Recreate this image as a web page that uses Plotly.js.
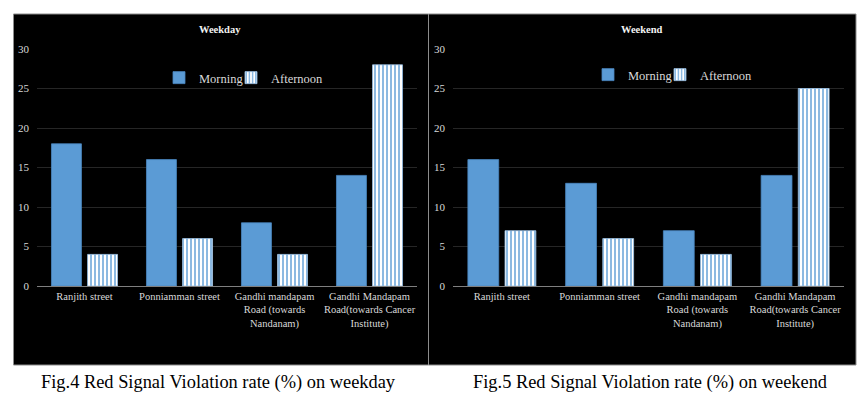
<!DOCTYPE html>
<html>
<head>
<meta charset="utf-8">
<script src="https://cdn.plot.ly/plotly-3.0.1.min.js"></script>
<style>html,body{margin:0;padding:0;background:#fff;}#chart{width:866px;height:394px;}</style>
</head>
<body>
<div id="chart"></div>
<script>
const categories = [
  "Ranjith street",
  "Ponniamman street",
  "Gandhi mandapam<br>Road (towards<br>Nandanam)",
  "Gandhi Mandapam<br>Road(towards Cancer<br>Institute)"
];
const weekdayMorning = [18, 16, 8, 14];
const weekdayAfternoon = [4, 6, 4, 28];
const weekendMorning = [16, 13, 7, 14];
const weekendAfternoon = [7, 6, 4, 25];
const panelTitles = ["Weekday", "Weekend"];
const captions = [
  "Fig.4 Red Signal Violation rate (%) on weekday",
  "Fig.5 Red Signal Violation rate (%) on weekend"
];

const W = 866, H = 394;
const px = v => v / W;
const py = v => 1 - v / H;

const blue = '#5b9bd5';
const serif = 'Liberation Serif, Times New Roman, serif';
const morningStyle = {color: blue, line: {color: '#4a86c0', width: 0.8}};
const afternoonStyle = {
  color: '#ffffff',
  line: {color: '#9dc3e6', width: 0.8},
  pattern: {shape: '|', fgcolor: blue, bgcolor: '#ffffff', size: 4, solidity: 0.35}
};

const traces = [
  {type: 'bar', name: 'Morning', x: categories, y: weekdayMorning, xaxis: 'x', yaxis: 'y', marker: morningStyle, legend: 'legend', hoverinfo: 'skip'},
  {type: 'bar', name: 'Afternoon', x: categories, y: weekdayAfternoon, xaxis: 'x', yaxis: 'y', marker: afternoonStyle, legend: 'legend', legendwidth: 70, hoverinfo: 'skip'},
  {type: 'bar', name: 'Morning', x: categories, y: weekendMorning, xaxis: 'x2', yaxis: 'y2', marker: morningStyle, legend: 'legend2', hoverinfo: 'skip'},
  {type: 'bar', name: 'Afternoon', x: categories, y: weekendAfternoon, xaxis: 'x2', yaxis: 'y2', marker: afternoonStyle, legend: 'legend2', legendwidth: 70, hoverinfo: 'skip'}
];

const tickFont = {family: serif, size: 10.5, color: '#d9d9d9'};
const yBase = {
  range: [0, 30], dtick: 5, showgrid: true, gridcolor: '#262626', gridwidth: 1,
  zeroline: false, showline: false, ticks: '', tickfont: {family: serif, size: 11, color: '#d9d9d9'},
  ticklabelstandoff: 7, domain: [py(286), py(49)], fixedrange: true
};
const xBase = {
  showgrid: false, showline: true, linecolor: '#7f7f7f', linewidth: 1, ticks: '',
  tickfont: tickFont, tickangle: 0, fixedrange: true
};
const legendFont = {family: serif, size: 12.5, color: '#d9d9d9'};

function ann(text, x, y, font) {
  return {text: text, xref: 'paper', yref: 'paper', x: px(x), y: py(y), xanchor: 'center', yanchor: 'middle',
    showarrow: false, font: font};
}

const layout = {
  width: W, height: H,
  margin: {l: 0, r: 0, t: 0, b: 0},
  paper_bgcolor: '#ffffff',
  plot_bgcolor: 'rgba(0,0,0,0)',
  barmode: 'group', bargap: 0.24, bargroupgap: 0.17,
  xaxis: Object.assign({}, xBase, {domain: [px(37), px(417)], anchor: 'y'}),
  yaxis: Object.assign({}, yBase, {anchor: 'x'}),
  xaxis2: Object.assign({}, xBase, {domain: [px(453), px(844)], anchor: 'y2'}),
  yaxis2: Object.assign({}, yBase, {anchor: 'x2'}),
  legend: {orientation: 'h', x: px(159), y: py(78), xanchor: 'left', yanchor: 'middle',
    bgcolor: 'rgba(0,0,0,0)', font: legendFont, itemwidth: 30, entrywidth: 27, tracegroupgap: 0},
  legend2: {orientation: 'h', x: px(588), y: py(75), xanchor: 'left', yanchor: 'middle',
    bgcolor: 'rgba(0,0,0,0)', font: legendFont, itemwidth: 30, entrywidth: 27, tracegroupgap: 0},
  shapes: [
    {type: 'rect', xref: 'paper', yref: 'paper', x0: px(13.5), x1: px(428.5), y0: py(365), y1: py(14),
      fillcolor: '#000000', line: {color: '#8c8c8c', width: 1}, layer: 'below'},
    {type: 'rect', xref: 'paper', yref: 'paper', x0: px(428.5), x1: px(856), y0: py(365), y1: py(14),
      fillcolor: '#000000', line: {color: '#8c8c8c', width: 1}, layer: 'below'}
  ],
  annotations: [
    ann('<b>' + panelTitles[0] + '</b>', 220, 29, {family: serif, size: 10.5, color: '#f2f2f2'}),
    ann('<b>' + panelTitles[1] + '</b>', 642, 29, {family: serif, size: 10.5, color: '#f2f2f2'}),
    ann(captions[0], 218, 382, {family: serif, size: 18.4, color: '#000000'}),
    ann(captions[1], 650, 382, {family: serif, size: 18.4, color: '#000000'})
  ],
  showlegend: true
};

Plotly.newPlot('chart', traces, layout, {displayModeBar: false, staticPlot: true});
</script>
</body>
</html>
